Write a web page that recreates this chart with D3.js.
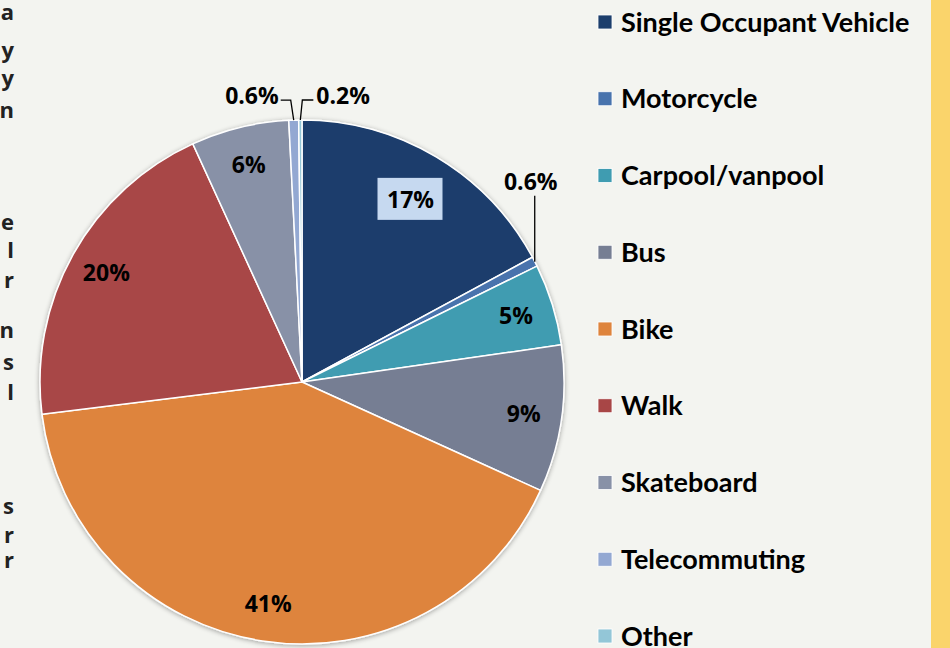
<!DOCTYPE html>
<html>
<head>
<meta charset="utf-8">
<script src="https://cdn.jsdelivr.net/npm/d3@7"></script>
<style>
  html, body { margin: 0; padding: 0; background: #f3f4f0; }
  svg { display: block; }
</style>
</head>
<body>
<svg id="chart"></svg>
<script>
const categories = ['Single Occupant Vehicle', 'Motorcycle', 'Carpool/vanpool', 'Bus', 'Bike', 'Walk', 'Skateboard', 'Telecommuting', 'Other']
const shares = [17, 0.6, 5, 9, 41, 20, 6, 0.6, 0.2]
const colors = ['#1c3e6c', '#4873ad', '#3f9cb1', '#767e93', '#de843d', '#a84646', '#8891a7', '#93a8d2', '#93c6d7']
// leftover line endings of the neighbouring text column (cut by the left edge)
const sideLetters = ['a', 'y', 'y', 'n', 'e', 'l', 'r', 'n', 's', 'l', 's', 'r', 'r']
const sideRows = [12, 50, 78, 110, 222, 250, 280, 330, 362, 392, 506, 535, 560]

const width = 950
const height = 648
const cx = 302, cy = 382
const radius = 262

const svg = d3.select('#chart')
  .attr('width', width)
  .attr('height', height)

svg.append('rect')
  .attr('width', width)
  .attr('height', height)
  .attr('fill', '#f3f4f0')

// yellow strip on the right
svg.append('rect')
  .attr('x', 931)
  .attr('width', width - 931)
  .attr('height', height)
  .attr('fill', '#fad46b')

svg.append('g')
  .selectAll('text')
  .data(sideLetters)
  .join('text')
  .attr('x', 14)
  .attr('y', (d, i) => sideRows[i])
  .attr('dy', '0.36em')
  .attr('text-anchor', 'end')
  .attr('font-family', "'Open Sans', sans-serif")
  .attr('font-weight', 'bold')
  .attr('font-size', 22)
  .attr('fill', '#222')
  .text(d => d)

const defs = svg.append('defs')
const shadow = defs.append('filter').attr('id', 'shadow')
  .attr('x', '-10%').attr('y', '-10%').attr('width', '120%').attr('height', '120%')
shadow.append('feGaussianBlur').attr('in', 'SourceAlpha').attr('stdDeviation', 2.5)
shadow.append('feOffset').attr('dx', 0).attr('dy', 1).attr('result', 'b')
shadow.append('feComponentTransfer').append('feFuncA').attr('type', 'linear').attr('slope', 0.35)
const merge = shadow.append('feMerge')
merge.append('feMergeNode')
merge.append('feMergeNode').attr('in', 'SourceGraphic')

const pie = d3.pie().sort(null).value(d => d)
const arcs = pie(shares)
const arc = d3.arc().innerRadius(0).outerRadius(radius)
const labelArc = d3.arc().innerRadius(224).outerRadius(224)
const boxArc = d3.arc().innerRadius(212).outerRadius(212)

const g = svg.append('g')
  .attr('transform', `translate(${cx}, ${cy})`)

g.append('g')
  .attr('filter', 'url(#shadow)')
  .selectAll('path')
  .data(arcs)
  .join('path')
  .attr('d', arc)
  .attr('fill', (d, i) => colors[i])
  .attr('stroke', '#fff')
  .attr('stroke-width', 1.5)
  .attr('stroke-linejoin', 'round')

const fmt = v => (v < 1 ? d3.format('.1f')(v) : d3.format('d')(v)) + '%'
const labelFont = "'Open Sans', sans-serif"

// big slices: label inside
const inside = arcs.filter(d => d.data >= 1)
const insideLabels = g.append('g')
  .selectAll('g')
  .data(inside)
  .join('g')
  .attr('transform', d => `translate(${(d.index === 0 ? boxArc : labelArc).centroid(d)})`)

insideLabels.filter(d => d.index === 0)
  .append('rect')
  .attr('x', -33)
  .attr('y', -22)
  .attr('width', 65)
  .attr('height', 42)
  .attr('fill', '#c6d9f0')

insideLabels.append('text')
  .attr('text-anchor', 'middle')
  .attr('dy', '0.36em')
  .attr('font-family', labelFont)
  .attr('font-weight', 'bold')
  .attr('font-size', 23)
  .attr('fill', '#000')
  .text(d => fmt(d.data))

// tiny slices: label outside with a leader line
const side = { 1: 'up', 7: 'left', 8: 'right' }
const outside = arcs.filter(d => d.data < 1)
const edge = d => {
  const a = (d.startAngle + d.endAngle) / 2
  return [Math.sin(a) * radius, -Math.cos(a) * radius]
}
const leader = d => {
  const [x, y] = edge(d)
  const dir = side[d.index]
  if (dir === 'up') return [[x, y], [x, y - 66]]
  if (dir === 'left') return [[x, y], [x - 3, y - 20], [x - 13, y - 20]]
  return [[x, y], [x + 2, y - 20], [x + 13, y - 20]]
}

g.append('g')
  .selectAll('path')
  .data(outside)
  .join('path')
  .attr('d', d => d3.line()(leader(d)))
  .attr('fill', 'none')
  .attr('stroke', '#000')
  .attr('stroke-width', 1.3)

g.append('g')
  .selectAll('text')
  .data(outside)
  .join('text')
  .attr('x', d => {
    const pts = leader(d)
    const end = pts[pts.length - 1]
    const dir = side[d.index]
    return dir === 'up' ? end[0] - 4 : dir === 'left' ? end[0] - 2 : end[0] + 3
  })
  .attr('y', d => {
    const pts = leader(d)
    const end = pts[pts.length - 1]
    return side[d.index] === 'up' ? end[1] - 14 : end[1] - 4
  })
  .attr('dy', '0.36em')
  .attr('text-anchor', d => side[d.index] === 'up' ? 'middle' : side[d.index] === 'left' ? 'end' : 'start')
  .attr('font-family', labelFont)
  .attr('font-weight', 'bold')
  .attr('font-size', 23)
  .attr('fill', '#000')
  .text(d => fmt(d.data))

// legend
const legendY = d3.scalePoint()
  .domain(categories)
  .range([22, 636])

const legend = svg.append('g')
  .selectAll('g')
  .data(categories)
  .join('g')
  .attr('transform', d => `translate(598, ${legendY(d)})`)

legend.append('rect')
  .attr('x', 0)
  .attr('y', -7)
  .attr('width', 14)
  .attr('height', 14)
  .attr('fill', (d, i) => colors[i])
  .attr('stroke', '#fff')
  .attr('stroke-width', 0.8)

legend.append('text')
  .attr('x', 23)
  .attr('dy', '0.36em')
  .attr('font-family', 'Lato, sans-serif')
  .attr('font-weight', 'bold')
  .attr('font-size', 27)
  .attr('fill', '#000')
  .text(d => d)
</script>
</body>
</html>
